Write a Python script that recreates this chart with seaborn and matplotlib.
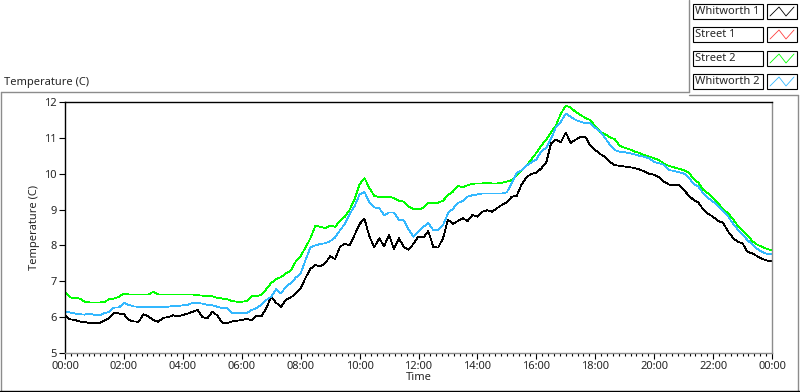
import numpy as np
import pandas as pd
import seaborn as sns
import matplotlib.pyplot as plt
from matplotlib.patches import Rectangle
from matplotlib.lines import Line2D

# temperature readings, one every 10 minutes from 00:00 to 24:00 (6 per row = 1 hour)
whitworth1 = [
    6.05, 5.94, 5.92, 5.88, 5.86, 5.84,
    5.84, 5.83, 5.90, 5.97, 6.13, 6.10,
    6.08, 5.92, 5.88, 5.87, 6.08, 6.02,
    5.92, 5.87, 5.98, 6.00, 6.05, 6.03,
    6.06, 6.10, 6.15, 6.20, 6.00, 5.97,
    6.15, 6.05, 5.85, 5.83, 5.88, 5.90,
    5.92, 5.95, 5.92, 6.04, 6.02, 6.25,
    6.57, 6.40, 6.29, 6.48, 6.55, 6.66,
    6.80, 7.10, 7.35, 7.45, 7.42, 7.50,
    7.70, 7.62, 7.96, 8.05, 8.00, 8.30,
    8.60, 8.74, 8.25, 7.95, 8.20, 7.98,
    8.30, 7.90, 8.20, 7.96, 7.88, 8.05,
    8.25, 8.22, 8.40, 7.96, 7.94, 8.20,
    8.72, 8.60, 8.68, 8.76, 8.68, 8.85,
    8.80, 8.94, 8.98, 8.94, 9.04, 9.13,
    9.20, 9.36, 9.38, 9.70, 9.90, 10.00,
    10.02, 10.15, 10.30, 10.85, 10.95, 10.88,
    11.15, 10.86, 10.95, 11.02, 11.03, 10.78,
    10.66, 10.55, 10.47, 10.32, 10.24, 10.22,
    10.20, 10.18, 10.16, 10.12, 10.06, 10.00,
    9.97, 9.90, 9.78, 9.70, 9.68, 9.68,
    9.55, 9.40, 9.27, 9.20, 9.00, 8.88,
    8.80, 8.68, 8.64, 8.40, 8.22, 8.10,
    8.06, 7.82, 7.78, 7.70, 7.62, 7.58,
    7.55,
]
street1 = []
street2 = [
    6.70, 6.55, 6.53, 6.52, 6.43, 6.41,
    6.41, 6.41, 6.42, 6.50, 6.52, 6.57,
    6.66, 6.63, 6.63, 6.63, 6.63, 6.63,
    6.71, 6.63, 6.63, 6.63, 6.63, 6.63,
    6.63, 6.63, 6.63, 6.61, 6.60, 6.60,
    6.58, 6.54, 6.52, 6.50, 6.45, 6.43,
    6.43, 6.45, 6.58, 6.59, 6.62, 6.78,
    6.95, 7.06, 7.12, 7.22, 7.30, 7.55,
    7.70, 7.95, 8.20, 8.55, 8.52, 8.48,
    8.55, 8.52, 8.68, 8.80, 9.00, 9.30,
    9.70, 9.88, 9.60, 9.38, 9.35, 9.36,
    9.36, 9.32, 9.25, 9.22, 9.08, 9.02,
    9.00, 9.05, 9.19, 9.19, 9.19, 9.25,
    9.40, 9.50, 9.66, 9.62, 9.68, 9.72,
    9.73, 9.73, 9.74, 9.73, 9.73, 9.75,
    9.78, 9.82, 9.96, 10.08, 10.22, 10.40,
    10.58, 10.78, 10.95, 11.15, 11.35, 11.68,
    11.89, 11.85, 11.72, 11.64, 11.55, 11.50,
    11.32, 11.17, 11.10, 11.02, 10.96, 10.78,
    10.72, 10.68, 10.62, 10.58, 10.52, 10.48,
    10.43, 10.38, 10.28, 10.22, 10.18, 10.14,
    10.10, 10.04, 9.86, 9.75, 9.55, 9.45,
    9.32, 9.18, 9.02, 8.90, 8.75, 8.55,
    8.42, 8.28, 8.12, 8.02, 7.96, 7.90,
    7.86,
]
whitworth2 = [
    6.15, 6.13, 6.10, 6.08, 6.07, 6.10,
    6.06, 6.05, 6.11, 6.15, 6.27, 6.27,
    6.40, 6.34, 6.30, 6.29, 6.29, 6.29,
    6.29, 6.29, 6.29, 6.29, 6.31, 6.31,
    6.33, 6.34, 6.40, 6.39, 6.38, 6.34,
    6.33, 6.29, 6.25, 6.25, 6.12, 6.11,
    6.11, 6.11, 6.20, 6.25, 6.35, 6.48,
    6.57, 6.78, 6.66, 6.85, 6.95, 7.10,
    7.22, 7.60, 7.95, 8.00, 8.04, 8.06,
    8.12, 8.22, 8.42, 8.60, 8.88, 9.10,
    9.42, 9.49, 9.20, 9.06, 9.04, 8.84,
    8.92, 8.92, 8.72, 8.70, 8.44, 8.24,
    8.40, 8.52, 8.62, 8.43, 8.43, 8.56,
    8.90, 9.02, 9.18, 9.24, 9.36, 9.40,
    9.42, 9.45, 9.45, 9.45, 9.45, 9.45,
    9.48, 9.75, 10.02, 10.10, 10.22, 10.32,
    10.40, 10.62, 10.72, 10.98, 11.30, 11.45,
    11.68, 11.59, 11.50, 11.45, 11.41, 11.41,
    11.28, 11.18, 11.00, 10.80, 10.66, 10.61,
    10.60, 10.57, 10.54, 10.50, 10.47, 10.43,
    10.33, 10.29, 10.25, 10.10, 10.08, 10.04,
    10.01, 9.90, 9.72, 9.64, 9.45, 9.32,
    9.22, 9.10, 8.95, 8.82, 8.62, 8.45,
    8.30, 8.15, 8.02, 7.90, 7.82, 7.76,
    7.76,
]

series_names = ['Whitworth 1', 'Street 1', 'Street 2', 'Whitworth 2']
series_values = [whitworth1, street1, street2, whitworth2]
series_colors = ['black', '#ff4040', '#00ff00', '#33b8ff']
hour_ticks = list(range(0, 25, 2))
hour_labels = ['00:00', '02:00', '04:00', '06:00', '08:00', '10:00', '12:00',
               '14:00', '16:00', '18:00', '20:00', '22:00', '00:00']
temp_ticks = [5, 6, 7, 8, 9, 10, 11, 12]

# long form table for seaborn
rows = []
for name, vals in zip(series_names, series_values):
    for i, v in enumerate(vals):
        rows.append({'hour': i / 6, 'temp': v, 'series': name})
df = pd.DataFrame(rows)

sns.set_style("white")
plt.rcParams['font.family'] = ['Noto Sans', 'DejaVu Sans']

fig = plt.figure(figsize=(8, 3.92), dpi=100)

# frame / legend drawn in pixel coordinates
frame = fig.add_axes([0, 0, 1, 1])
frame.set_xlim(0, 800)
frame.set_ylim(392, 0)
frame.axis('off')
grey = '#8c8c8c'
frame.add_line(Line2D([1, 689], [92, 92], color=grey, lw=1))
frame.add_line(Line2D([689, 689], [0, 92], color=grey, lw=1))
frame.add_line(Line2D([689, 798], [95, 95], color=grey, lw=1))
frame.add_line(Line2D([798, 798], [95, 391], color=grey, lw=1))
frame.add_line(Line2D([1, 1], [92, 391], color=grey, lw=1))
frame.add_line(Line2D([0, 800], [391, 391], color='black', lw=1))
frame.text(4, 82, 'Temperature (C)', fontsize=8, va='center', ha='left')

row_tops = [4, 27, 51, 74]
for name, color, top in zip(series_names, series_colors, row_tops):
    frame.add_patch(Rectangle((693, top), 70, 15, fc='white', ec='black', lw=0.8))
    frame.text(695, top + 7.5, name, fontsize=8, va='center', ha='left')
    frame.add_patch(Rectangle((767, top), 30, 15, fc='white', ec='black', lw=0.8))
    frame.add_line(Line2D([770, 779, 786, 794], [top + 12, top + 3, top + 12, top + 3],
                          color=color, lw=0.6))

ax = fig.add_axes([65 / 800, 1 - 353 / 392, 707 / 800, 251 / 392])
for name, color in zip(series_names, series_colors):
    sub = df[df['series'] == name]
    if len(sub) == 0:
        continue
    sns.lineplot(ax=ax, data=sub, x='hour', y='temp', color=color, lw=0.55,
                 antialiased=False, legend=False)

ax.set_xlim(0, 24)
ax.set_ylim(5, 12)
ax.set_xticks(hour_ticks)
ax.set_xticklabels(hour_labels, fontsize=8)
ax.set_xticks(np.arange(0, 24.01, 0.2), minor=True)
ax.set_yticks(temp_ticks)
ax.set_yticklabels([str(t) for t in temp_ticks], fontsize=8)
ax.tick_params(axis='both', which='major', direction='out', length=4, width=0.8,
               color='black', pad=2, bottom=True, left=True)
ax.tick_params(axis='x', which='minor', direction='out', length=2.5, width=0.8,
               color='black', bottom=True)
ax.set_xlabel('Time', fontsize=8, labelpad=0)
ax.set_ylabel('Temperature (C)', fontsize=8, labelpad=3)
for side in ['left', 'top']:
    ax.spines[side].set_color('black')
    ax.spines[side].set_linewidth(1)
for side in ['right', 'bottom']:
    ax.spines[side].set_color(grey)
    ax.spines[side].set_linewidth(1)
ax.grid(False)

fig.savefig('out.png', dpi=100)
